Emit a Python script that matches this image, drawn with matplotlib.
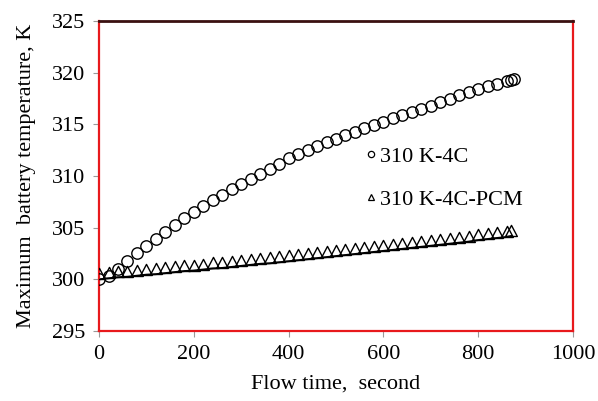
import numpy as np
import matplotlib
matplotlib.use("Agg")
import matplotlib.pyplot as plt
from matplotlib.lines import Line2D

# Maximum battery temperature vs flow time, with and without PCM
time_4c = [0, 20, 40, 60, 80, 100, 120, 140, 160, 180,
           200, 220, 240, 260, 280, 300, 320, 340, 360, 380,
           400, 420, 440, 460, 480, 500, 520, 540, 560, 580,
           600, 620, 640, 660, 680, 700, 720, 740, 760, 780,
           800, 820, 840, 860, 870, 875]
temp_4c = [300.0, 300.3, 301.0, 301.8, 302.5, 303.2, 303.9, 304.6, 305.3, 305.9,
           306.5, 307.1, 307.7, 308.2, 308.7, 309.2, 309.7, 310.2, 310.7, 311.2,
           311.7, 312.1, 312.5, 312.9, 313.3, 313.6, 314.0, 314.3, 314.6, 314.9,
           315.2, 315.6, 315.9, 316.2, 316.5, 316.8, 317.2, 317.5, 317.8, 318.1,
           318.4, 318.7, 318.9, 319.2, 319.3, 319.4]

time_pcm = [0, 20, 40, 60, 80, 100, 120, 140, 160, 180,
            200, 220, 240, 260, 280, 300, 320, 340, 360, 380,
            400, 420, 440, 460, 480, 500, 520, 540, 560, 580,
            600, 620, 640, 660, 680, 700, 720, 740, 760, 780,
            800, 820, 840, 860, 870]
temp_pcm = [300.0, 300.1, 300.2, 300.25, 300.35, 300.45, 300.5, 300.6, 300.7, 300.8,
            300.85, 300.95, 301.05, 301.1, 301.2, 301.3, 301.4, 301.5, 301.55, 301.65,
            301.75, 301.85, 301.95, 302.05, 302.15, 302.25, 302.35, 302.45, 302.55, 302.65,
            302.75, 302.85, 302.95, 303.05, 303.15, 303.25, 303.35, 303.45, 303.55, 303.65,
            303.8, 303.9, 304.0, 304.1, 304.2]

x_ticks = [0, 200, 400, 600, 800, 1000]
y_ticks = [295, 300, 305, 310, 315, 320, 325]

plt.rcParams["font.family"] = ["Liberation Serif", "DejaVu Serif"]

fig = plt.figure(figsize=(5.98, 4.01), dpi=100)
ax = fig.add_axes([0.1656, 0.1746, 0.7926, 0.773])

# triangle sitting on its base so the line runs along the bottoms
tri = [(-1.0, 0.0), (1.0, 0.0), (0.0, 1.9), (-1.0, 0.0)]

ax.plot(time_pcm, temp_pcm, color="black", lw=1.4, zorder=2)
ax.plot(time_pcm, temp_pcm, ls="none", marker=tri, ms=16,
        mfc="none", mec="black", mew=1.0, zorder=3)
ax.plot(time_4c, temp_4c, ls="none", marker="o", ms=8.2,
        mfc="none", mec="black", mew=1.0, zorder=3)

ax.set_xlim(0, 1000)
ax.set_ylim(295, 325)
ax.set_xticks(x_ticks)
ax.set_yticks(y_ticks)
ax.tick_params(axis="both", direction="out", length=4, width=0.8,
               color="#999999", labelsize=16, pad=6)

for side in ["left", "right", "bottom"]:
    ax.spines[side].set_color("#e8191c")
    ax.spines[side].set_linewidth(1.6)
ax.spines["top"].set_color("#3a1010")
ax.spines["top"].set_linewidth(2.0)

ax.set_xlabel("Flow time,  second", fontsize=16, labelpad=8)
ax.set_ylabel("Maximum  battery temperature, K", fontsize=16, labelpad=11)

handles = [
    Line2D([], [], ls="none", marker="o", ms=4.5, mfc="none",
           mec="black", mew=0.9),
    Line2D([], [], ls="none", marker="^", ms=4.5, mfc="none",
           mec="black", mew=0.9),
]
ax.legend(handles, ["310 K-4C", "310 K-4C-PCM"], loc="upper left",
          bbox_to_anchor=(0.52, 0.66), frameon=False, fontsize=16,
          handlelength=0.5, handletextpad=0.15, labelspacing=1.0)

fig.savefig("out.png", dpi=100)
